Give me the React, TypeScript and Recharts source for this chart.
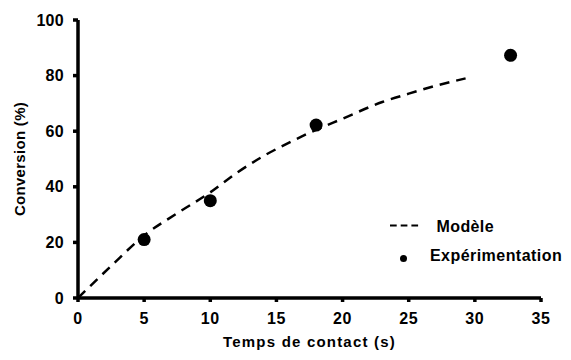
import { ComposedChart, Line, Scatter, XAxis, YAxis } from "recharts";

// model curve
const modelTime = [0, 2.5, 5, 7.5, 10, 12, 14, 16, 18, 20, 23, 25, 27, 29.3];
const modelConv = [0, 11.5, 22.5, 30.5, 38, 45, 51, 56, 60.5, 64.5, 70.5, 73.5, 76.3, 79];

// measured points
const expTime = [5, 10, 18, 32.7];
const expConv = [21, 35, 62.2, 87.3];

const xTicks = [0, 5, 10, 15, 20, 25, 30, 35];
const yTicks = [0, 20, 40, 60, 80, 100];

const modelData = modelTime.map((t, i) => ({ t, conv: modelConv[i] }));
const expData = expTime.map((t, i) => ({ t, conv: expConv[i] }));

const font = "'Liberation Sans', Arial, sans-serif";
const tickStyle = { fontFamily: font, fontWeight: 700, fontSize: 16, fill: "#000", letterSpacing: 0.6 };
const labelStyle = { fontFamily: font, fontWeight: 700, fontSize: 15, fill: "#000", letterSpacing: 1.2 };
const axisStyle = { stroke: "#000", strokeWidth: 3.5 };

const Dot = (props: any) => <circle cx={props.cx} cy={props.cy} r={6.5} fill="#000" />;

const LegendBox = () => (
  <svg width={571} height={360} style={{ position: "absolute", left: 0, top: 0, pointerEvents: "none" }}>
    <line x1={390} y1={225.5} x2={422} y2={225.5} stroke="#000" strokeWidth={2} strokeDasharray="6.7 4" />
    <text x={436.5} y={231.5} fontFamily={font} fontWeight={700} fontSize={16} letterSpacing={0.4}>
      Modèle
    </text>
    <circle cx={403.5} cy={258.5} r={3.5} fill="#000" />
    <text x={430} y={261} fontFamily={font} fontWeight={700} fontSize={16} letterSpacing={0.45}>
      Expérimentation
    </text>
  </svg>
);

export default function App() {
  return (
    <div style={{ position: "relative", margin: -8, width: 571, height: 360, background: "#fff" }}>
      <ComposedChart width={571} height={360} margin={{ top: 20, right: 30, bottom: 12, left: 0 }}>
        <XAxis
          type="number"
          dataKey="t"
          domain={[0, 35]}
          ticks={xTicks}
          allowDataOverflow
          axisLine={axisStyle}
          tickLine={axisStyle}
          tickSize={4}
          tickMargin={11}
          tick={tickStyle}
          height={50}
          label={{ value: "Temps de contact (s)", position: "insideBottom", offset: 1, style: labelStyle }}
        />
        <YAxis
          type="number"
          domain={[0, 100]}
          ticks={yTicks}
          axisLine={axisStyle}
          tickLine={axisStyle}
          tickSize={5}
          tickMargin={9}
          tick={{ ...tickStyle, letterSpacing: 0.3 }}
          width={78}
          label={{ value: "Conversion (%)", angle: -90, position: "insideLeft", offset: 20, style: { ...labelStyle, letterSpacing: 0.3, textAnchor: "middle" } }}
        />
        <Line
          data={modelData}
          dataKey="conv"
          type="monotone"
          stroke="#000"
          strokeWidth={2.5}
          strokeDasharray="10 7"
          dot={false}
          activeDot={false}
          isAnimationActive={false}
        />
        <Scatter data={expData} dataKey="conv" shape={Dot} isAnimationActive={false} />
      </ComposedChart>
      <LegendBox />
    </div>
  );
}
